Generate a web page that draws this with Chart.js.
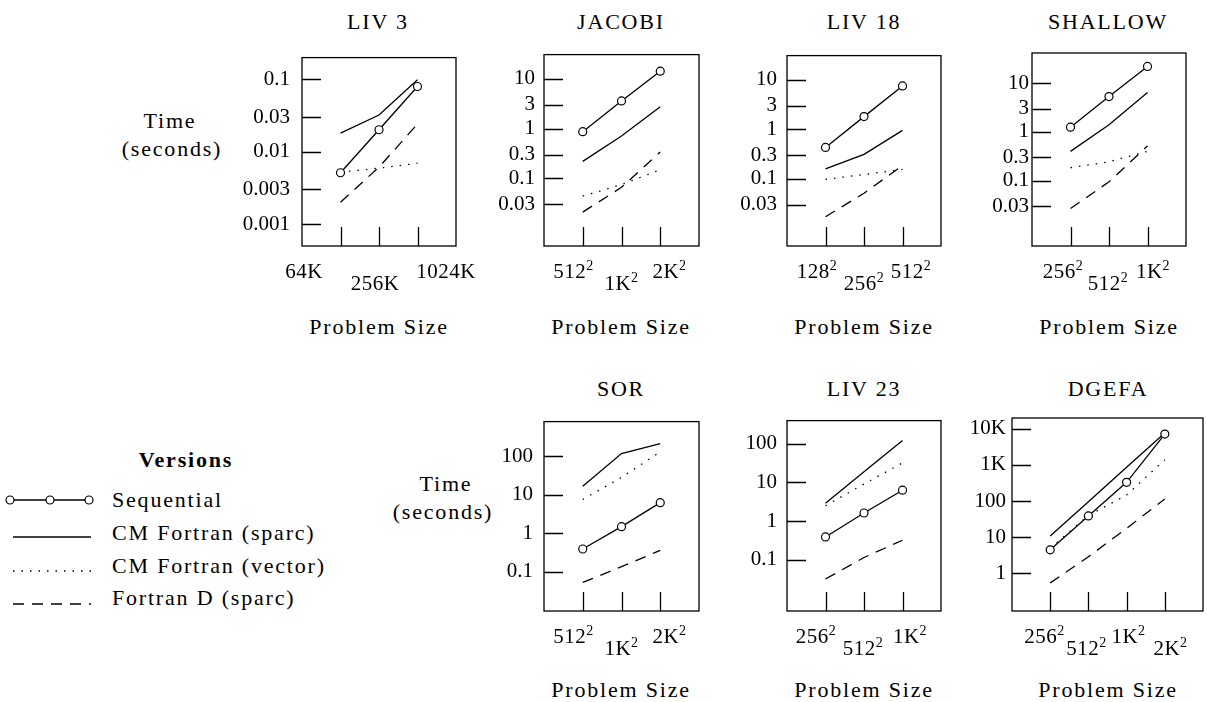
<!DOCTYPE html>
<html>
<head>
<meta charset="utf-8">
<script src="https://cdn.jsdelivr.net/npm/chart.js@4"></script>
<style>
  body { margin: 0; width: 1207px; height: 702px; overflow: hidden; background: #fff; position: relative;
         font-family: "Liberation Serif", serif; color: #000; }
  canvas { position: absolute; }
  .t { position: absolute; transform: translate(-50%, -50%); white-space: nowrap; font-size: 22px; letter-spacing: 1.8px; line-height: 1; }
  .leg { position: absolute; left: 112px; transform: translateY(-50%); white-space: nowrap; font-size: 22px; letter-spacing: 1.8px; line-height: 1; }
</style>
</head>
<body>

<div class="t" style="left:378px;top:22px">LIV 3</div>
<div class="t" style="left:621px;top:22px">JACOBI</div>
<div class="t" style="left:864px;top:22px">LIV 18</div>
<div class="t" style="left:1108px;top:22px">SHALLOW</div>
<div class="t" style="left:621px;top:389px">SOR</div>
<div class="t" style="left:864px;top:389px">LIV 23</div>
<div class="t" style="left:1108px;top:389px">DGEFA</div>

<div class="t" style="left:379px;top:327px">Problem Size</div>
<div class="t" style="left:621px;top:327px">Problem Size</div>
<div class="t" style="left:864px;top:327px">Problem Size</div>
<div class="t" style="left:1109px;top:327px">Problem Size</div>
<div class="t" style="left:621px;top:690px">Problem Size</div>
<div class="t" style="left:864px;top:690px">Problem Size</div>
<div class="t" style="left:1108px;top:690px">Problem Size</div>

<div class="t" style="left:170px;top:121px">Time</div>
<div class="t" style="left:172px;top:149px">(seconds)</div>
<div class="t" style="left:446px;top:484px">Time</div>
<div class="t" style="left:443px;top:512px">(seconds)</div>

<div class="t" style="left:186px;top:460px;font-weight:bold">Versions</div>
<svg style="position:absolute;left:0;top:480px" width="100" height="140">
  <line x1="10" y1="20" x2="89" y2="20" stroke="#000" stroke-width="1.3"/>
  <circle cx="10" cy="20" r="4" fill="#fff" stroke="#000" stroke-width="1.2"/>
  <circle cx="50" cy="20" r="4" fill="#fff" stroke="#000" stroke-width="1.2"/>
  <circle cx="89" cy="20" r="4" fill="#fff" stroke="#000" stroke-width="1.2"/>
  <line x1="13" y1="57" x2="91" y2="57" stroke="#000" stroke-width="1.3"/>
  <line x1="13" y1="91" x2="91" y2="91" stroke="#000" stroke-width="1.5" stroke-dasharray="1.5 7"/>
  <line x1="13" y1="124" x2="91" y2="124" stroke="#000" stroke-width="1.3" stroke-dasharray="11 8"/>
</svg>
<div class="leg" style="top:500px">Sequential</div>
<div class="leg" style="top:533px">CM Fortran (sparc)</div>
<div class="leg" style="top:566px">CM Fortran (vector)</div>
<div class="leg" style="top:598px">Fortran D (sparc)</div>

<script>
// problem sizes (x categories)
const liv3Sizes = ['64K', '256K', '1024K'];
const jacobiSizes = ['512²', '1K²', '2K²'];
const liv18Sizes = ['128²', '256²', '512²'];
const shallowSizes = ['256²', '512²', '1K²'];
const sorSizes = ['512²', '1K²', '2K²'];
const liv23Sizes = ['256²', '512²', '1K²'];
const dgefaSizes = ['256²', '512²', '1K²', '2K²'];

// times in seconds: sequential, CM Fortran sparc, CM Fortran vector, Fortran D sparc
const liv3Seq = [0.0051, 0.020, 0.079];
const liv3Sparc = [0.018, 0.032, 0.098];
const liv3Vector = [0.0052, 0.0059, 0.0069];
const liv3FortD = [0.002, 0.0061, 0.024];

const jacobiSeq = [0.87, 3.6, 14.3];
const jacobiSparc = [0.22, 0.71, 2.75];
const jacobiVector = [0.044, 0.075, 0.149];
const jacobiFortD = [0.021, 0.066, 0.34];

const liv18Seq = [0.43, 1.8, 7.5];
const liv18Sparc = [0.158, 0.31, 0.95];
const liv18Vector = [0.097, 0.122, 0.154];
const liv18FortD = [0.017, 0.051, 0.185];

const shallowSeq = [1.25, 5.3, 21.9];
const shallowSparc = [0.40, 1.40, 6.4];
const shallowVector = [0.185, 0.245, 0.40];
const shallowFortD = [0.027, 0.095, 0.52];

const sorSeq = [0.39, 1.48, 6.2];
const sorSparc = [16.5, 116, 209];
const sorVector = [7.5, 28, 129];
const sorFortD = [0.053, 0.136, 0.36];

const liv23Seq = [0.39, 1.62, 6.3];
const liv23Sparc = [2.9, 19, 122];
const liv23Vector = [2.5, 9.1, 32];
const liv23FortD = [0.032, 0.115, 0.32];

const dgefaSeq = [4.5, 39, 330, 7100];
const dgefaSparc = [10.9, 96, 860, 7600];
const dgefaVector = [5, 40, 147, 1380];
const dgefaFortD = [0.55, 2.9, 17.7, 114];

// y tick values and labels
const liv3Ticks = [0.001, 0.003, 0.01, 0.03, 0.1];
const liv3TickLabels = ['0.001', '0.003', '0.01', '0.03', '0.1'];
const midTicks = [0.03, 0.1, 0.3, 1, 3, 10];
const midTickLabels = ['0.03', '0.1', '0.3', '1', '3', '10'];
const bigTicks = [0.1, 1, 10, 100];
const bigTickLabels = ['0.1', '1', '10', '100'];
const dgefaTicks = [1, 10, 100, 1000, 10000];
const dgefaTickLabels = ['1', '10', '100', '1K', '10K'];

const styles = [
    { label: 'Sequential', dash: [], points: true },
    { label: 'CM Fortran (sparc)', dash: [], points: false },
    { label: 'CM Fortran (vector)', dash: [1.5, 7], points: false },
    { label: 'Fortran D (sparc)', dash: [11, 8], points: false }
];

const panels = [
    { box: [302, 53, 456, 246], sizes: liv3Sizes, series: [liv3Seq, liv3Sparc, liv3Vector, liv3FortD],
      ticks: liv3Ticks, tickLabels: liv3TickLabels, range: [0.000498, 0.198], gap: 12, step: 71, shift: -4 },
    { box: [544, 53, 699, 246], sizes: jacobiSizes, series: [jacobiSeq, jacobiSparc, jacobiVector, jacobiFortD],
      ticks: midTicks, tickLabels: midTickLabels, range: [0.00437, 30.8], gap: 9, step: 48, shift: 0 },
    { box: [787, 53, 941, 246], sizes: liv18Sizes, series: [liv18Seq, liv18Sparc, liv18Vector, liv18FortD],
      ticks: midTicks, tickLabels: midTickLabels, range: [0.00437, 30.8], gap: 10, step: 47, shift: 0 },
    { box: [1032, 53, 1186, 246], sizes: shallowSizes, series: [shallowSeq, shallowSparc, shallowVector, shallowFortD],
      ticks: midTicks, tickLabels: midTickLabels, range: [0.00462, 41.3], gap: 3, step: 45, shift: -1 },
    { box: [544, 418, 699, 611], sizes: sorSizes, series: [sorSeq, sorSparc, sorVector, sorFortD],
      ticks: bigTicks, tickLabels: bigTickLabels, range: [0.00966, 782], gap: 11, step: 48, shift: 0 },
    { box: [787, 418, 941, 611], sizes: liv23Sizes, series: [liv23Seq, liv23Sparc, liv23Vector, liv23FortD],
      ticks: bigTicks, tickLabels: bigTickLabels, range: [0.00476, 396], gap: 10, step: 47, shift: -1 },
    { box: [1012, 418, 1203, 611], sizes: dgefaSizes, series: [dgefaSeq, dgefaSparc, dgefaVector, dgefaFortD],
      ticks: dgefaTicks, tickLabels: dgefaTickLabels, range: [0.092, 19770], gap: 6, step: 42, shift: 0 }
];

const FONT = '"Liberation Serif", serif';

function drawSizeLabel(ctx, text, cx, cy) {
    const sup = text.endsWith('²');
    const base = sup ? text.slice(0, -1) : text;
    ctx.letterSpacing = '0.5px';
    ctx.font = '21px ' + FONT;
    const bw = ctx.measureText(base).width;
    ctx.font = '14px ' + FONT;
    const sw = sup ? ctx.measureText('2').width : 0;
    const x0 = cx - (bw + sw) / 2;
    ctx.textAlign = 'left';
    ctx.textBaseline = 'middle';
    ctx.font = '21px ' + FONT;
    ctx.fillText(base, x0, cy);
    if (sup) {
        ctx.font = '14px ' + FONT;
        ctx.fillText('2', x0 + bw, cy - 6);
    }
}

// box, inward tick marks and staggered size labels
const framePlugin = {
    id: 'frame',
    beforeDatasetsDraw(chart, args, opts) {
        const { ctx, chartArea: a, scales: { x, y } } = chart;
        ctx.save();
        ctx.strokeStyle = '#000';
        ctx.fillStyle = '#000';
        ctx.lineWidth = 1.3;
        ctx.strokeRect(a.left, a.top, a.width, a.height);
        ctx.beginPath();
        y.ticks.forEach(t => {
            const py = Math.round(y.getPixelForValue(t.value)) + 0.5;
            ctx.moveTo(a.left, py);
            ctx.lineTo(a.left + 19, py);
        });
        opts.sizes.forEach((s, i) => {
            const px = Math.round(x.getPixelForValue(i)) + 0.5;
            ctx.moveTo(px, a.bottom);
            ctx.lineTo(px, a.bottom - 19);
        });
        ctx.stroke();
        const n = opts.sizes.length;
        const mid = (x.getPixelForValue(0) + x.getPixelForValue(n - 1)) / 2 + opts.shift;
        opts.sizes.forEach((s, i) => {
            drawSizeLabel(ctx, s, mid + (i - (n - 1) / 2) * opts.step, a.bottom + (i % 2 ? 38 : 26));
        });
        ctx.restore();
    }
};

panels.forEach(p => {
    const [l, t, r, b] = p.box;
    const cv = document.createElement('canvas');
    cv.width = 90 + (r - l) + 30;
    cv.height = 20 + (b - t) + 55;
    cv.style.left = (l - 90) + 'px';
    cv.style.top = (t - 20) + 'px';
    document.body.appendChild(cv);

    new Chart(cv, {
        type: 'line',
        data: {
            datasets: styles.map((s, k) => ({
                label: s.label,
                data: p.series[k].map((v, i) => ({ x: i, y: v })),
                borderColor: '#000',
                borderWidth: 1.3,
                borderDash: s.dash,
                pointRadius: s.points ? 4 : 0,
                pointBackgroundColor: '#fff',
                pointBorderColor: '#000',
                pointBorderWidth: 1.2,
                tension: 0,
                fill: false
            }))
        },
        options: {
            responsive: false,
            animation: false,
            devicePixelRatio: 1,
            layout: { padding: { left: 0, top: 20, right: 30, bottom: 55 } },
            plugins: {
                legend: { display: false },
                tooltip: { enabled: false },
                frame: { sizes: p.sizes, step: p.step, shift: p.shift }
            },
            scales: {
                x: { type: 'linear', min: -1, max: p.sizes.length, display: false },
                y: {
                    type: 'logarithmic',
                    min: p.range[0],
                    max: p.range[1],
                    afterFit: s => { s.width = 90; },
                    afterBuildTicks: s => { s.ticks = p.ticks.map(v => ({ value: v })); },
                    ticks: {
                        autoSkip: false,
                        padding: p.gap,
                        color: '#000',
                        font: { family: 'Liberation Serif', size: 21 },
                        callback: (v, i) => p.tickLabels[i]
                    },
                    grid: { display: false, drawTicks: false },
                    border: { display: false }
                }
            }
        },
        plugins: [framePlugin]
    });
});
</script>
</body>
</html>
